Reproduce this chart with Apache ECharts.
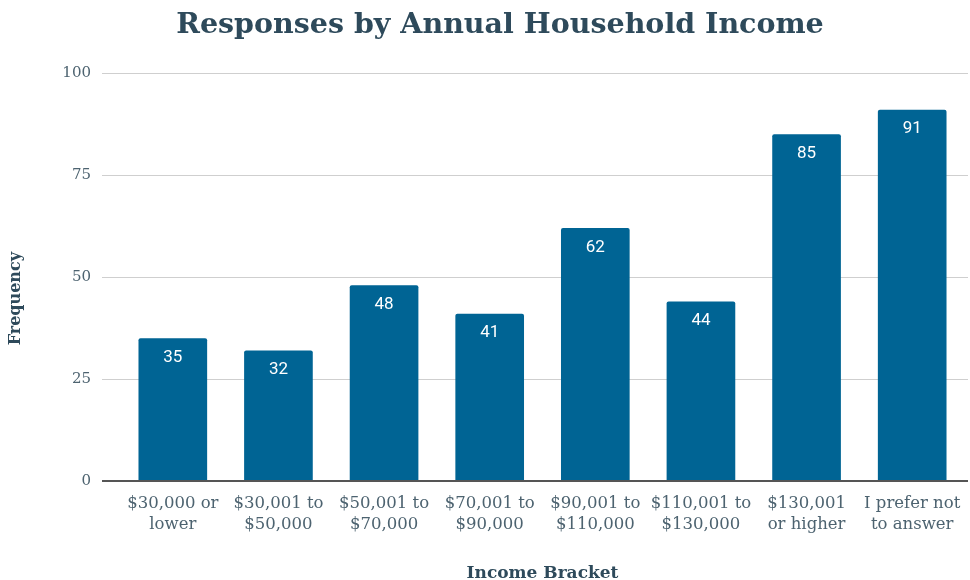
<!DOCTYPE html>
<html>
<head>
<meta charset="utf-8">
<script src="https://cdn.jsdelivr.net/npm/echarts@6/dist/echarts.min.js"></script>
<style>
  html, body { margin: 0; padding: 0; background: #fff; }
  #chart { width: 970px; height: 580px; }
</style>
</head>
<body>
<div id="chart"></div>
<script>
// Income brackets and the number of responses in each
const categories = [
  '$30,000 or\nlower',
  '$30,001 to\n$50,000',
  '$50,001 to\n$70,000',
  '$70,001 to\n$90,000',
  '$90,001 to\n$110,000',
  '$110,001 to\n$130,000',
  '$130,001\nor higher',
  'I prefer not\nto answer'
];
const frequency = [35, 32, 48, 41, 62, 44, 85, 91];
const yTicks = [0, 25, 50, 75, 100];

const serif = '"DejaVu Serif", "Liberation Serif", serif';
const ink = '#2e4a5b';
const tickInk = '#4d6370';
const barColor = '#006494';

const chart = echarts.init(document.getElementById('chart'), null, { renderer: 'canvas' });

chart.setOption({
  backgroundColor: '#ffffff',
  animation: false,
  title: {
    text: 'Responses by Annual Household Income',
    left: 495,
    textAlign: 'center',
    top: 6,
    textStyle: { fontFamily: serif, fontWeight: 'bold', fontSize: 28.5, color: ink }
  },
  graphic: [
    {
      type: 'text',
      left: 8,
      top: 252,
      rotation: Math.PI / 2,
      style: {
        text: 'Frequency',
        fontFamily: serif, fontWeight: 'bold', fontSize: 16, fill: ink
      }
    }
  ],
  grid: [
    // background grid: gridlines and y tick labels
    { left: 102, right: 2, top: 73, bottom: 99, outerBoundsMode: 'none', containLabel: false },
    // bars
    { left: 120, right: 5, top: 73, bottom: 99, outerBoundsMode: 'none', containLabel: false }
  ],
  xAxis: [
    {
      gridIndex: 0, type: 'value', min: 0, max: 1, show: false
    },
    {
      gridIndex: 1,
      type: 'category',
      data: categories,
      name: 'Income Bracket',
      nameLocation: 'middle',
      nameGap: 84,
      nameTextStyle: { fontFamily: serif, fontWeight: 'bold', fontSize: 17, color: ink },
      axisLine: { show: false },
      axisTick: { show: false },
      axisLabel: {
        fontFamily: serif, fontSize: 16.5, color: tickInk, lineHeight: 21,
        margin: 12, interval: 0
      }
    }
  ],
  yAxis: [
    {
      gridIndex: 0,
      type: 'value',
      min: yTicks[0], max: yTicks[yTicks.length - 1], interval: 25,
      axisLine: { show: false },
      axisTick: { show: false },
      axisLabel: { fontFamily: serif, fontSize: 15, color: tickInk, margin: 11 },
      splitLine: { lineStyle: { color: '#cfcfcf', width: 1 } }
    },
    {
      gridIndex: 1,
      type: 'value',
      min: yTicks[0], max: yTicks[yTicks.length - 1], interval: 25,
      show: false,
      splitLine: { show: false }
    }
  ],
  series: [
    {
      // baseline across the full plot width
      type: 'line',
      xAxisIndex: 0, yAxisIndex: 0,
      data: [[0, 0], [1, 0]],
      symbol: 'none',
      lineStyle: { color: '#555555', width: 2 },
      silent: true,
      z: 5
    },
    {
      type: 'bar',
      xAxisIndex: 1, yAxisIndex: 1,
      data: frequency,
      barWidth: '65%',
      itemStyle: { color: barColor, borderRadius: [2, 2, 0, 0] },
      label: {
        show: true,
        position: 'insideTop',
        distance: 11,
        color: '#ffffff',
        fontFamily: 'Roboto, sans-serif',
        fontSize: 17
      },
      z: 3
    }
  ]
});
</script>
</body>
</html>
